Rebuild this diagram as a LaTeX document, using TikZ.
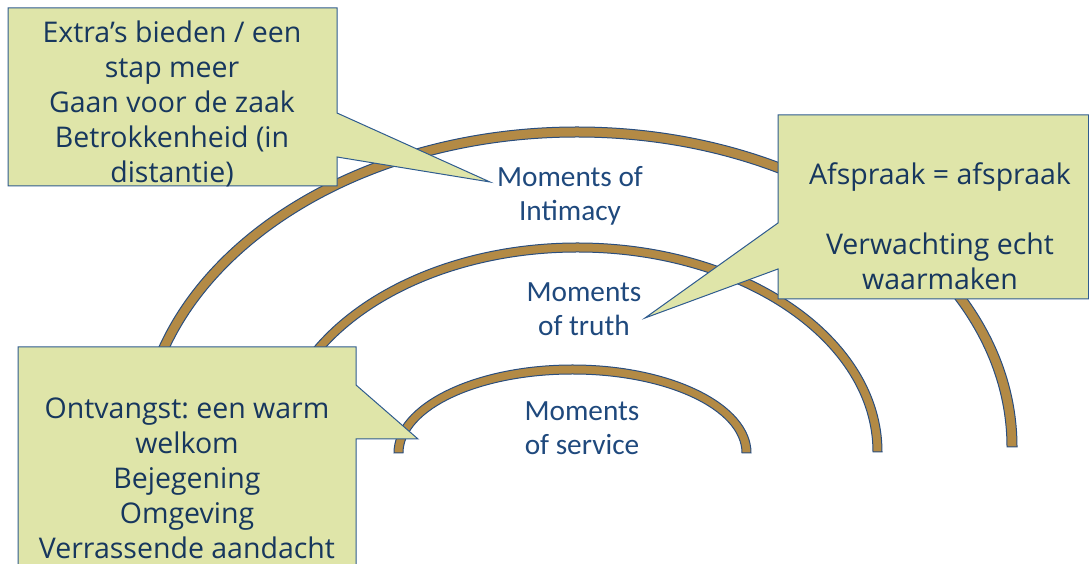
\documentclass[tikz,border=0pt]{standalone}
\usepackage{fontspec}
\setmainfont{Open Sans}
\newfontfamily\labelfont{Carlito}
\frenchspacing
\definecolor{arcfill}{HTML}{B38A45}
\definecolor{arcline}{HTML}{2A4E7E}
\definecolor{callfill}{HTML}{DFE5A9}
\definecolor{callline}{HTML}{2F5C8F}
\definecolor{calltext}{HTML}{17375E}
\definecolor{labeltext}{HTML}{1F497D}
\tikzset{
  band/.style={fill=arcfill, draw=arcline, line width=1pt},
  callout/.style={fill=callfill, draw=callline, line width=1pt},
  calltxt/.style={align=center, text=calltext, font=\frenchspacing\fontsize{28.5}{35}\selectfont, inner sep=0pt},
  lbl/.style={align=center, text=labeltext, font=\labelfont\fontsize{29.3}{34}\selectfont, inner sep=0pt},
}
\newcommand{\bandarc}[5]{% cx, base y, a, b, t
  \path[band] (#1-#3,#2) arc[start angle=180, end angle=0, x radius=#3, y radius=#4]
    -- (#1+#3-#5,#2) arc[start angle=0, end angle=180, x radius=#3-#5, y radius=#4-#5] -- cycle;
}
\begin{document}
\begin{tikzpicture}[x=1pt,y=1pt]
\useasboundingbox (0,0) rectangle (1089,564);
% arcs (y = 564 - py)
\bandarc{572.5}{111}{178.5}{88}{9}
\bandarc{577.5}{112}{304.5}{209}{9}
\bandarc{577}{117}{440}{320}{10}
% labels
\node[lbl] (intimacy) at (570,368) {Moments of\\Intimacy};
\node[lbl] (truth) at (584,255) {Moments\\of truth};
\node[lbl] (service) at (582,136) {Moments\\of service};
% callout 1
\path[callout] (8,556) -- (337,556) -- (337,451) -- (490,382) -- (337,407) -- (337,378) -- (8,378) -- cycle;
\node[calltxt] (c1) at (172,460) {Extra’s bieden / een\\stap meer\\Gaan voor de zaak\\Betrokkenheid (in\\distantie)};
% callout 2
\path[callout] (778,449) -- (1088.5,449) -- (1088.5,265) -- (778,265) -- (778,295) -- (645,246) -- (778,341) -- cycle;
\node[calltxt] (c2) at (940,338) {Afspraak = afspraak\\[35pt]Verwachting echt\\waarmaken};
% callout 3
\path[callout] (18,217) -- (356,217) -- (356,179) -- (418,125) -- (356,125) -- (356,-10) -- (18,-10) -- cycle;
\node[calltxt] (c3) at (187,86) {Ontvangst: een warm\\welkom\\Bejegening\\Omgeving\\Verrassende aandacht};
\end{tikzpicture}
\end{document}
